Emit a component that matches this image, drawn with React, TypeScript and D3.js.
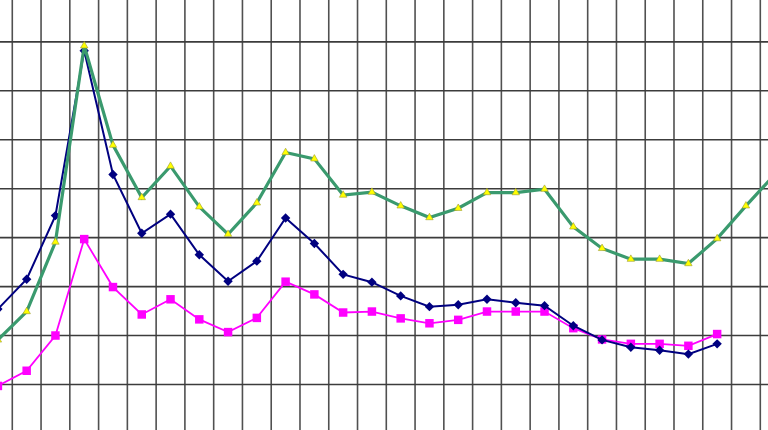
import React from "react";
import * as d3 from "d3";

const categories: string[] = Array.from({ length: 28 }, (_, i) => String(i + 1));

const seriesNavy: number[] = [
  25.4, 31.5, 44.5, 78.2, 52.9, 40.9, 44.8, 36.5, 31.1, 35.2, 44.0, 38.8, 32.5,
  30.9, 28.1, 25.9, 26.3, 27.4, 26.7, 26.1, 22.0, 19.1, 17.6, 17.0, 16.2, 18.3,
];

const seriesGreen: number[] = [
  19.1, 24.9, 39.1, 79.2, 58.9, 48.2, 54.6, 46.3, 40.7, 47.1, 57.4, 56.1, 48.7,
  49.3, 46.5, 44.1, 46.0, 49.2, 49.2, 49.9, 42.2, 37.8, 35.6, 35.6, 34.7, 39.8,
  46.5, 52.9,
];

const seriesPink: number[] = [
  9.7, 12.8, 20.0, 39.7, 29.9, 24.3, 27.4, 23.3, 20.7, 23.6, 31.0, 28.4, 24.7,
  24.9, 23.5, 22.5, 23.2, 24.9, 24.9, 24.9, 21.5, 19.2, 18.3, 18.3, 17.9, 20.3,
];

const yTicks: number[] = [0, 10, 20, 30, 40, 50, 60, 70, 80, 90];

const W = 768;
const H = 430;

export default function App() {
  const x = d3
    .scaleBand<string>()
    .domain(categories)
    .range([-16.485, -16.485 + 28 * 28.77])
    .paddingInner(0)
    .paddingOuter(0);
  const y = d3.scaleLinear().domain([0, 90]).range([433.4, -7.06]);
  const cx = (i: number) => (x(categories[i]) as number) + x.bandwidth() / 2;

  const line = d3
    .line<number>()
    .x((_, i) => cx(i))
    .y((d) => y(d));

  const vLines = categories.map((c) => (x(c) as number) + x.bandwidth());
  const diamond = d3.symbol().type(d3.symbolSquare).size(44)() as string;
  const square = d3.symbol().type(d3.symbolSquare).size(72)() as string;
  const tri = d3.symbol().type(d3.symbolTriangle).size(24)() as string;

  return (
    <svg
      width={W}
      height={H}
      style={{ position: "fixed", left: 0, top: 0, background: "#fff" }}
    >
      <defs>
        <clipPath id="clip">
          <rect x={0} y={0} width={W} height={H} />
        </clipPath>
      </defs>
      <rect x={0} y={0} width={W} height={H} fill="#fff" />
      <g clipPath="url(#clip)">
        {vLines.map((vx, i) => (
          <line key={"v" + i} x1={vx} x2={vx} y1={0} y2={H} stroke="#505050" strokeWidth={1.6} />
        ))}
        {yTicks.map((t) => (
          <line key={"h" + t} x1={0} x2={W} y1={y(t)} y2={y(t)} stroke="#3c3c3c" strokeWidth={1.6} />
        ))}
        <path d={line(seriesPink) as string} fill="none" stroke="#ff00ff" strokeWidth={1.8} />
        {seriesPink.map((v, i) => (
          <path key={"p" + i} d={square} transform={`translate(${cx(i)},${y(v)})`} fill="#ff00ff" />
        ))}
        <path d={line(seriesNavy) as string} fill="none" stroke="#000080" strokeWidth={2} />
        {seriesNavy.map((v, i) => (
          <path
            key={"n" + i}
            d={diamond}
            transform={`translate(${cx(i)},${y(v)}) rotate(45)`}
            fill="#000080"
          />
        ))}
        <path d={line(seriesGreen) as string} fill="none" stroke="#3a9a6e" strokeWidth={3.2} />
        {seriesGreen.map((v, i) => (
          <path
            key={"g" + i}
            d={tri}
            transform={`translate(${cx(i)},${y(v)})`}
            fill="#ffff00"
            stroke="#9a9a30"
            strokeWidth={0.6}
          />
        ))}
      </g>
    </svg>
  );
}
